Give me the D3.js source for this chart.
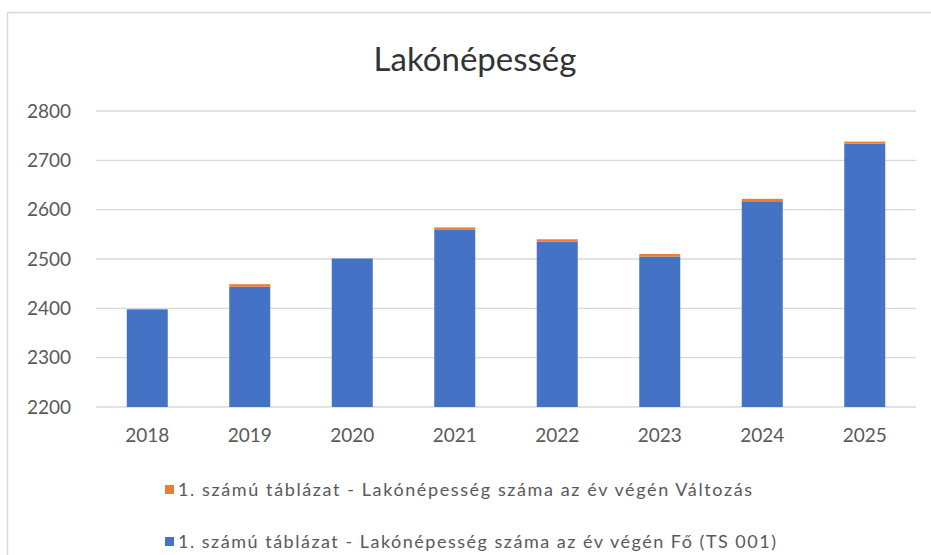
<!DOCTYPE html>
<html><head><meta charset="utf-8">
<script src="https://cdn.jsdelivr.net/npm/d3@7"></script>
<style>body{margin:0;background:#fff}svg{display:block}text{font-family:Lato,"Open Sans",sans-serif}</style>
</head><body>
<svg id="c" width="931" height="555"></svg>
<script>
const years = ["2018","2019","2020","2021","2022","2023","2024","2025"];
const fo = [2398, 2444, 2501, 2560, 2535, 2505, 2617, 2734];
const valtozas = [0, 5, 0, 4, 5, 5, 5, 4];
const yTicks = [2200, 2300, 2400, 2500, 2600, 2700, 2800];
const title = "Lakónépesség";
const seriesNames = ["1. számú táblázat - Lakónépesség száma az év végén Változás",
                     "1. számú táblázat - Lakónépesség száma az év végén Fő (TS 001)"];
const colors = ["#ED7D31", "#4472C4"];

const svg = d3.select("#c");
// frame
svg.append("rect").attr("x",7.5).attr("y",12.5).attr("width",940).attr("height",560)
  .attr("fill","none").attr("stroke","#D9D9D9").attr("stroke-width",1.5);

const x = d3.scaleBand().domain(years).range([96,916]).paddingInner(0.6).paddingOuter(0.3);
const y = d3.scaleLinear().domain([2200,2800]).range([407,111]);

// gridlines
svg.append("g").selectAll("line").data(yTicks).join("line")
  .attr("x1",96).attr("x2",916).attr("y1",d=>y(d)).attr("y2",d=>y(d))
  .attr("stroke","#D9D9D9").attr("stroke-width",1.3);

// y labels
const yAxis = d3.axisLeft(y).tickValues(yTicks).tickSize(0).tickPadding(0).tickFormat(d3.format("d"));
const ya = svg.append("g").attr("transform","translate(71,0)").call(yAxis);
ya.select(".domain").remove();
ya.selectAll("text").attr("fill","#595959").style("font-size","19px").style("font-family","Lato,'Open Sans',sans-serif");

// x labels
const xAxis = d3.axisBottom(x).tickSize(0).tickPadding(0);
const xa = svg.append("g").attr("transform","translate(0,428)").call(xAxis);
xa.select(".domain").remove();
xa.selectAll("text").attr("fill","#595959").style("font-size","19px").style("font-family","Lato,'Open Sans',sans-serif");

// stacked bars
const rows = years.map((yr,i)=>({year:yr, fo:fo[i], valtozas:valtozas[i]}));
const stacked = d3.stack().keys(["fo","valtozas"])(rows);
const colorFor = {fo:colors[1], valtozas:colors[0]};
svg.append("g").selectAll("g").data(stacked).join("g").attr("fill",d=>colorFor[d.key])
  .selectAll("rect").data(d=>d).join("rect")
  .attr("x",d=>x(d.data.year)).attr("width",x.bandwidth())
  .attr("y",d=>y(Math.max(d[1],2200))).attr("height",d=>Math.max(0,y(Math.max(d[0],2200))-y(Math.max(d[1],2200))));

// title
svg.append("text").attr("x",475).attr("y",71).attr("text-anchor","middle")
  .attr("fill","#333").style("font-size","33px").text(title);

// legend
const lg = svg.append("g");
const legY = [490, 542];
const legW = [574, 598];
seriesNames.forEach((n,i)=>{
  lg.append("rect").attr("x",165).attr("y",legY[i]-5).attr("width",9).attr("height",9).attr("fill",colors[i]);
  lg.append("text").attr("x",178).attr("y",legY[i]+6).attr("fill","#595959").style("font-size","18px")
    .attr("textLength",legW[i]).attr("lengthAdjust","spacing").text(n);
});
</script>
</body></html>
